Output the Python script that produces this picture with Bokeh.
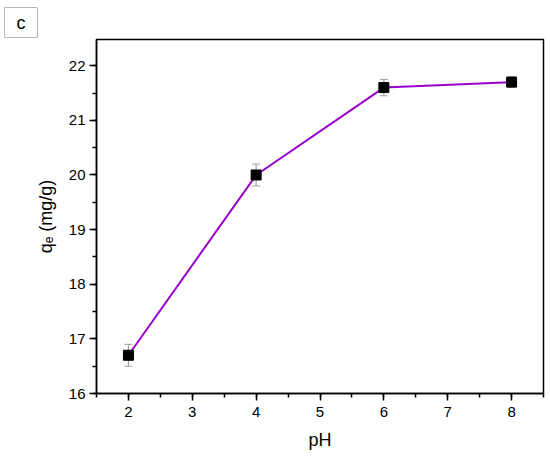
from bokeh.plotting import figure
from bokeh.models import Whisker, ColumnDataSource, Range1d, FixedTicker
from bokeh.embed import file_html
from bokeh.resources import INLINE

ph = [2, 4, 6, 8]
qe = [16.7, 20.0, 21.6, 21.7]
err = [0.2, 0.2, 0.15, 0.1]

x_ticks = [2, 3, 4, 5, 6, 7, 8]
y_ticks = [16, 17, 18, 19, 20, 21, 22]

src = ColumnDataSource(dict(x=ph, y=qe,
                            lo=[v - e for v, e in zip(qe, err)],
                            hi=[v + e for v, e in zip(qe, err)]))

p = figure(width=548, height=452, output_backend="svg", toolbar_location=None,
           x_range=Range1d(1.5, 8.5), y_range=Range1d(16, 22.48),
           min_border_left=96, min_border_top=39, min_border_right=5, min_border_bottom=55)

p.line("x", "y", source=src, line_color="#9900CC", line_width=2)
w = Whisker(base="x", lower="lo", upper="hi", source=src,
            line_color="#a0a0a0", line_width=1.2)
w.upper_head.line_color = "#a0a0a0"
w.lower_head.line_color = "#a0a0a0"
w.upper_head.size = 8
w.lower_head.size = 8
p.add_layout(w)
p.scatter("x", "y", source=src, marker="square", size=10, color="black")

p.xgrid.visible = False
p.ygrid.visible = False
p.outline_line_color = "black"
p.outline_line_width = 1.5

for ax in (p.xaxis[0], p.yaxis[0]):
    ax.axis_line_width = 1.5
    ax.major_tick_line_width = 1.5
    ax.minor_tick_line_width = 1.5
    ax.major_tick_out = 7
    ax.major_tick_in = 0
    ax.minor_tick_out = 4
    ax.minor_tick_in = 0
    ax.major_label_text_font = "Liberation Sans"
    ax.major_label_text_font_size = "15px"
    ax.major_label_text_color = "black"
    ax.axis_label_text_font = "Liberation Sans"
    ax.axis_label_text_font_size = "18px"
    ax.axis_label_text_font_style = "normal"
    ax.axis_label_text_color = "black"

p.xaxis.ticker = FixedTicker(ticks=x_ticks, minor_ticks=[1.5 + 0.5 * i for i in range(15)])
p.yaxis.ticker = FixedTicker(ticks=y_ticks, minor_ticks=[16 + 0.5 * i for i in range(13)])
p.xaxis.axis_label = "pH"
p.yaxis.axis_label = "qₑ (mg/g)"
p.xaxis.major_label_standoff = 6
p.yaxis.major_label_standoff = 4
p.xaxis.axis_label_standoff = 10
p.yaxis.axis_label_standoff = 10

p.title.text = "c"
p.title.align = "left"
p.title.offset = -92
p.title.standoff = 4
p.title.text_font = "Liberation Sans"
p.title.text_font_size = "18px"
p.title.text_font_style = "normal"
p.title.text_color = "black"
p.title.border_line_color = "#b8b8b8"
p.title.border_line_width = 1
p.title.background_fill_color = "white"
p.title.padding = (12, 5)

open("out.html", "w").write(file_html(p, INLINE))
